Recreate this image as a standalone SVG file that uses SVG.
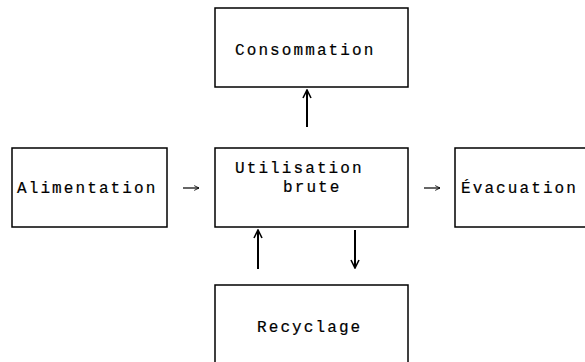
<svg xmlns="http://www.w3.org/2000/svg" width="585" height="362" viewBox="0 0 585 362">
<defs>
<style>
.box{fill:#fff;stroke:#000;stroke-width:1.5}
.t{font-family:"Liberation Mono","Courier New",monospace;font-size:16px;letter-spacing:2.1px;fill:#000;stroke:#000;stroke-width:0.2}
.c{fill:none;stroke:#000}
.thin{stroke-width:1.2}
.thick{stroke-width:2}
</style>
<marker id="ah" viewBox="0 0 10 10" refX="9" refY="5" markerWidth="6" markerHeight="6" orient="auto" markerUnits="userSpaceOnUse">
<path d="M1,1 L9,5 L1,9" fill="none" stroke="#000" stroke-width="1.4"/>
</marker>
<marker id="ahv" viewBox="0 0 10 10" refX="9" refY="5" markerWidth="10" markerHeight="14" orient="auto" markerUnits="userSpaceOnUse">
<path d="M1,1 L9,5 L1,9" fill="none" stroke="#000" stroke-width="1.6"/>
</marker>
</defs>
<rect width="585" height="362" fill="#fff"/>
<g id="consommation">
<rect class="box" x="215" y="8" width="193" height="79"/>
<text class="t" x="235" y="55">Consommation</text>
</g>
<g id="alimentation">
<rect class="box" x="12" y="148" width="155" height="79"/>
<text class="t" x="17" y="193">Alimentation</text>
</g>
<g id="utilisation">
<rect class="box" x="215" y="148" width="193" height="79"/>
<text class="t" x="235" y="173">Utilisation</text>
<text class="t" x="283" y="192">brute</text>
</g>
<g id="evacuation">
<rect class="box" x="455" y="148" width="140" height="79"/>
<text class="t" x="461" y="193">Évacuation</text>
</g>
<g id="recyclage">
<rect class="box" x="215" y="285" width="193" height="90"/>
<text class="t" x="257" y="332">Recyclage</text>
</g>
<g id="connectors">
<line class="c thick" x1="307" y1="127" x2="307" y2="90" marker-end="url(#ahv)"/>
<line class="c thin" x1="183" y1="188" x2="199" y2="188" marker-end="url(#ah)"/>
<line class="c thin" x1="424" y1="188" x2="440" y2="188" marker-end="url(#ah)"/>
<line class="c thick" x1="258" y1="269" x2="258" y2="230" marker-end="url(#ahv)"/>
<line class="c thick" x1="355" y1="230" x2="355" y2="268" marker-end="url(#ahv)"/>
</g>
</svg>
